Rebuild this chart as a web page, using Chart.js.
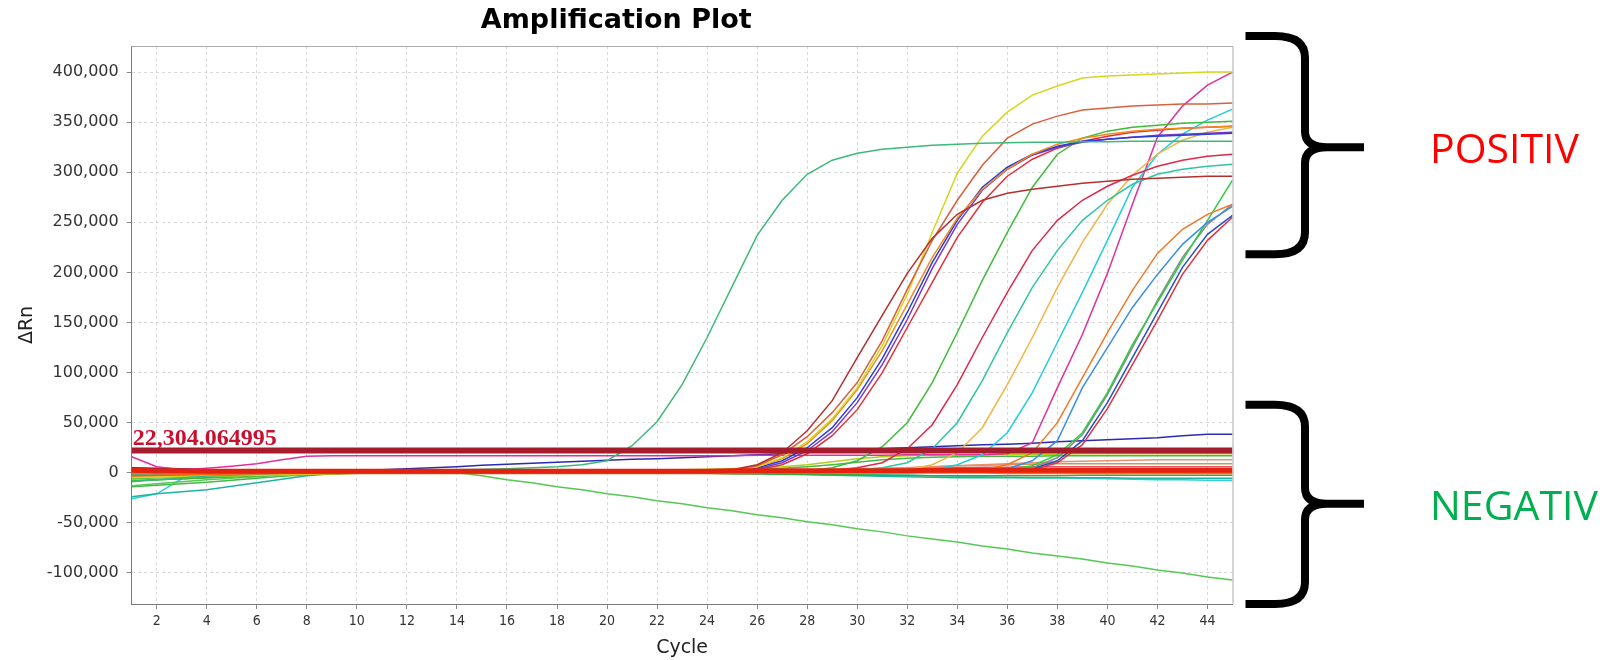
<!DOCTYPE html>
<html><head><meta charset="utf-8">
<script src="https://cdn.jsdelivr.net/npm/chart.js@4.4.1/dist/chart.umd.min.js"></script>
<style>
html,body{margin:0;padding:0;background:#fff;}
#wrap{position:relative;width:1620px;height:660px;overflow:hidden;background:#fff;}
.lab{position:absolute;font-family:'Open Sans',sans-serif;font-size:41px;line-height:41px;white-space:nowrap;}
</style></head><body>
<div id="wrap"><canvas id="c" width="1620" height="660"></canvas>
<div class="lab" style="left:1430px;top:126.6px;color:#FF0000">POSITIV</div>
<div class="lab" style="left:1430px;top:483.6px;color:#00B050">NEGATIV</div>
</div>
<script>
const cycles = [1,2,3,4,5,6,7,8,9,10,11,12,13,14,15,16,17,18,19,20,21,22,23,24,25,26,27,28,29,30,31,32,33,34,35,36,37,38,39,40,41,42,43,44,45];
const xTickValues = [2,4,6,8,10,12,14,16,18,20,22,24,26,28,30,32,34,36,38,40,42,44];
const yTickValues = [-100000,-50000,0,50000,100000,150000,200000,250000,300000,350000,400000];
const yMin = -131000, yMax = 426000;
const thresholdValue = 22304.064995;
const thresholdLabel = '22,304.064995';
const braceRanges = [[436000, 325000, 218000], [68000, -31000, -131000]];

// positive samples
const earlyGreen = [-9000,-7000,-5000,-3500,-2500,-1500,-500,0,500,1000, 1500,2000,2500,3000,3500,4000,5000,6000,8000,12000, 27000,51000,88000,135000,186000,237000,272000,298000,312000,319000, 323000,325000,327000,328000,329000,329500,330000,330000,330500,330500, 331000,331000,331000,331000,331000];
const brownRed = [3000,2500,2000,1500,1000,500,500,500,500,500, 500,500,500,500,500,500,500,500,500,500, 1000,1000,1500,2000,3000,8000,20000,42000,72000,115000, 157000,199000,234000,258000,272000,279000,283000,286000,289000,291000, 293000,294000,295000,296000,296000];
const orangeRed = [-3000,-2500,-2000,-1500,-1000,-500,0,0,0,0, 0,0,0,0,0,0,0,500,500,500, 500,1000,1000,1500,2500,7000,18000,36000,60000,90000, 132000,183000,232000,272000,307000,334000,348000,356000,362000,364000, 366000,367000,368000,368000,369000];
const yellow = [-5000,-4500,-4000,-3500,-3000,-2500,-2000,-1500,-1000,-500, 0,0,0,0,0,0,0,0,500,500, 500,1000,1000,1500,2500,6000,15000,31000,54000,85000, 127000,178000,240000,299000,336000,360000,377000,386000,394000,396000, 397000,398000,399000,400000,400000];
const orange = [-3000,-3000,-2500,-2000,-1500,-1000,-500,0,0,0, 0,0,0,0,0,0,0,0,500,500, 500,500,1000,1500,2500,6000,14000,29000,52000,83000, 122000,168000,215000,254000,283000,303000,318000,328000,334000,338000, 341000,343000,344000,345000,346000];
const blue = [4000,3500,3000,2500,2000,1500,1000,1000,1000,1000, 1000,1000,1000,1000,1000,1000,1000,1000,1000,1000, 1000,1000,1000,1000,1500,5000,12000,25000,45000,75000, 114000,160000,210000,252000,285000,305000,318000,326000,331000,333000, 335000,336000,337000,338000,339000];
const purple = [2000,2000,1500,1500,1000,1000,1000,500,500,500, 500,500,500,500,500,500,500,500,500,500, 500,500,500,500,1500,4000,10000,22000,41000,70000, 108000,153000,204000,248000,282000,303000,317000,325000,330000,333000, 335000,337000,338000,339000,340000];
const red = [1000,1000,1000,500,500,500,500,500,500,500, 500,500,500,500,500,500,500,500,500,500, 500,500,500,500,1000,3000,8000,19000,37000,63000, 100000,145000,190000,235000,270000,296000,313000,324000,331000,336000, 340000,342000,344000,345000,346000];
const greenMid = [-8000,-7000,-6000,-5000,-4000,-3000,-2000,-1500,-1000,-500, 0,0,0,0,0,0,0,0,0,0, 0,500,500,500,500,500,1000,2000,5000,12000, 26000,50000,90000,140000,192000,240000,285000,318000,334000,341000, 345000,347000,349000,350000,351000];
const crimson = [1000,1000,500,500,500,500,500,500,500,500, 500,500,500,500,500,500,500,500,500,500, 500,500,500,500,500,500,1000,1500,2500,5000, 10000,24000,48000,88000,135000,180000,222000,252000,272000,286000, 297000,306000,312000,316000,318000];
const teal = [-2000,-1500,-1000,-500,0,0,0,0,0,0, 0,0,0,0,0,0,0,0,0,0, 0,0,0,0,0,500,500,1000,1500,2500, 5000,10000,24000,50000,92000,140000,185000,222000,252000,272000, 288000,298000,303000,306000,308000];
const lightOrange = [-4000,-3500,-3000,-2500,-2000,-1500,-1000,-500,0,0, 0,0,0,0,0,0,0,0,0,0, 0,0,0,0,500,500,500,1000,1000,1500, 2000,3000,8000,20000,45000,88000,135000,185000,230000,268000, 297000,318000,332000,340000,345000];
const cyan = [-1000,-1000,-500,-500,0,0,0,0,0,0, 0,0,0,0,0,0,0,0,0,0, 0,0,0,0,0,500,500,500,1000,1000, 1500,2000,3000,8000,18000,40000,80000,130000,180000,232000, 285000,318000,338000,352000,363000];
const magenta = [16000,6000,3000,4500,6500,9000,13000,16500,17000,17000, 17000,17000,17000,17000,17000,17000,17000,17000,17000,17000, 17000,17000,17000,17000,17000,17500,17500,17500,17500,17500, 17500,18000,18000,18000,18000,19000,30000,85000,138000,199000, 268000,335000,366000,387000,400000];
const orange2 = [-2000,-1500,-1000,-500,0,0,0,0,0,0, 0,0,0,0,0,0,0,0,0,0, 0,0,0,0,0,0,500,500,500,1000, 1000,1000,1500,2000,3000,8000,20000,50000,95000,140000, 182000,219000,243000,258000,268000];
const lightBlue = [3000,2500,2000,1500,1000,500,500,500,500,500, 500,500,500,500,500,500,500,500,500,500, 500,500,500,500,500,500,500,1000,1000,1000, 1000,1500,1500,2000,2500,4000,12000,32000,85000,125000, 165000,198000,228000,250000,266000];
const green2 = [-6000,-5000,-4000,-3000,-2500,-2000,-1500,-1000,-500,0, 0,0,0,0,0,0,0,0,0,0, 0,0,0,0,0,0,0,500,500,500, 1000,1000,1000,1500,2000,3000,7000,18000,40000,80000, 128000,170000,212000,252000,292000];
const gray = [0,0,0,0,0,0,0,0,0,0, 0,0,0,0,0,0,0,0,0,0, 0,0,0,0,500,500,500,500,1000,1000, 1000,1500,1500,2000,2500,3000,5000,15000,38000,78000, 125000,172000,215000,248000,268000];
const blue3 = [2000,1500,1500,1000,1000,500,500,500,500,500, 500,500,500,500,500,500,500,500,500,500, 500,500,500,500,500,500,1000,1000,1000,1000, 1500,1500,2000,2000,2500,3000,4000,12000,32000,70000, 115000,160000,205000,238000,257000];
const red4 = [1000,1000,500,500,500,500,500,500,500,500, 500,500,500,500,500,500,500,500,500,500, 500,500,500,500,500,500,500,1000,1000,1000, 1000,1500,1500,2000,2000,2500,3000,10000,28000,64000, 108000,152000,198000,232000,255000];

// negative / baseline samples
const darkBlue = [5000,4500,4000,3000,2500,2000,2000,2000,2000,2500, 3000,4000,5000,6000,7500,8500,9500,10500,11500,12500, 13500,14000,15000,16000,17000,18000,19000,20500,22000,23000, 24000,25000,26000,27000,28000,28500,29500,31000,32000,33000, 34000,35000,37000,38500,38500];
const negGreen = [-13000,-11000,-9000,-7000,-5500,-4000,-2500,-1500,-1000,-500, 0,0,0,0,-3000,-7000,-10000,-14000,-17000,-21000, -24000,-28000,-31000,-35000,-38000,-42000,-45000,-49000,-52000,-56000, -59000,-63000,-66000,-69000,-73000,-76000,-80000,-83000,-86000,-90000, -93000,-97000,-100000,-104000,-107000];
const yellowGreen = [-4000,-3500,-3000,-2500,-2000,-1500,-1000,-500,0,0, 0,500,500,500,1000,1000,1000,1500,1500,2000, 2000,2500,3000,3500,4000,5000,6000,8000,11000,14000, 16000,17000,17500,18000,18000,18500,18500,18500,19000,19000, 19000,19000,19000,19000,19000];
const green3 = [-14000,-12500,-11000,-9500,-7500,-5500,-3500,-2000,-1000,0, 0,0,500,500,500,1000,1000,1000,1500,1500, 1500,2000,2000,2500,3000,3500,4500,6000,8000,10500, 13000,14500,15500,16000,16500,16500,16500,17000,17000,17000, 17000,17000,17000,17000,17000];
const salmon = [-2000,-1500,-1000,-500,0,0,0,0,0,0, 0,0,0,0,500,500,500,500,500,1000, 1000,1000,1000,1500,1500,2000,2500,3000,3500,4000, 4500,5000,6000,7000,8000,9000,10000,11000,11500,12000, 12500,13000,13000,13000,13000];
const tan = [-6000,-5000,-4000,-3000,-2500,-2000,-1500,-1000,-500,0, 0,0,0,0,0,0,500,500,500,500, 500,1000,1000,1000,1500,1500,2000,2500,3000,3500, 4000,5000,6000,7000,7500,8000,8500,9000,9000,9000, 9000,9000,9000,9000,9000];
const pinkRed = [2000,1500,1000,500,0,0,0,0,0,0, 0,0,0,0,0,0,0,0,500,500, 500,500,1000,1000,1000,1500,1500,2000,2500,3000, 3500,4000,4500,5000,5500,5500,6000,6000,6000,6000, 6000,6000,6000,6000,6000];
const redBase = [2500,2000,2000,1500,1500,1500,1500,1500,1500,1500, 1500,1500,1500,1500,1500,1500,1500,1500,1500,1500, 1500,1500,1500,1500,2000,2000,2000,2000,2000,2000, 2000,2000,2500,2500,2500,2500,2500,2500,2500,2500, 2500,2500,2500,2500,2500];
const orangeBase = [0,0,-500,-500,-500,-500,0,0,0,0, 0,0,0,0,0,0,0,0,0,0, 0,0,0,0,0,0,500,500,500,500, 500,500,500,500,500,0,0,0,0,0, 0,0,0,0,0];
const green4 = [-8000,-7000,-6000,-5000,-4000,-3000,-2000,-1500,-1000,-500, 0,0,0,0,0,0,0,0,0,0, 0,0,-500,-500,-1000,-1000,-1500,-1500,-2000,-2000, -2500,-2500,-3000,-3000,-3000,-3000,-3000,-3000,-2500,-2500, -2500,-2500,-2500,-2500,-2500];
const tealBase = [-24000,-21000,-19000,-17000,-13500,-10000,-6500,-3000,-1000,0, 0,0,0,0,0,0,0,0,0,0, 0,0,-500,-500,-1000,-1000,-1500,-2000,-2500,-3000, -3500,-4000,-4500,-5000,-5000,-5000,-5000,-5000,-5000,-5000, -5500,-5500,-5500,-5500,-5500];
const cyanBase = [-26000,-21000,-6000,-4500,-3500,-2500,-1500,-1000,-500,0, 0,0,0,0,0,0,0,0,0,0, 0,0,0,-500,-500,-1000,-1000,-1500,-1500,-2000, -2000,-2500,-3000,-3500,-4000,-4500,-5000,-5000,-5500,-6000, -6500,-7000,-7000,-7500,-7500];

function line(label, data, color, width) {
  return {label, data, borderColor: color, backgroundColor: color, borderWidth: width || 1.5,
          pointRadius: 0, pointHoverRadius: 0, fill: false, tension: 0};
}

const datasets = [
  {label: 'Threshold', data: [{x: cycles[0], y: thresholdValue}, {x: cycles[cycles.length - 1], y: thresholdValue}],
   borderColor: '#A51D2D', backgroundColor: '#A51D2D', borderWidth: 6, pointRadius: 0, fill: false},
  line('A1', redBase, '#E3220F', 5),
  line('A2', orangeBase, '#FF6A0A', 3),
  line('A3', earlyGreen, '#3DB97A'),
  line('A4', brownRed, '#B3302E'),
  line('A5', orangeRed, '#D8603A'),
  line('A6', yellow, '#D6D61E'),
  line('A7', orange, '#F28A1C'),
  line('A8', blue, '#2E3ED2'),
  line('A9', purple, '#7A3CC8'),
  line('A10', red, '#E0303A'),
  line('A11', greenMid, '#3DBB3D'),
  line('A12', crimson, '#E0284A'),
  line('A13', teal, '#2EC4A4'),
  line('A14', lightOrange, '#F2B444'),
  line('A15', cyan, '#22CCDD'),
  line('A16', magenta, '#E0309C'),
  line('A17', orange2, '#F07828'),
  line('A18', lightBlue, '#3A8EE6'),
  line('A19', green2, '#2ECC40'),
  line('A20', gray, '#8A8A8A'),
  line('A21', blue3, '#2850C8'),
  line('A22', red4, '#DD3344'),
  line('B1', darkBlue, '#2B2BB0'),
  line('B2', negGreen, '#55C855'),
  line('B3', yellowGreen, '#B5CC1E'),
  line('B4', green3, '#45B845'),
  line('B5', salmon, '#E8906A'),
  line('B6', tan, '#C89A5A'),
  line('B7', pinkRed, '#E05868'),
  line('B8', green4, '#38A838'),
  line('B9', tealBase, '#1EB4A0'),
  line('B10', cyanBase, '#2ED0D8')
];

function drawBrace(ctx, x0, xv, xt, yA, yM, yB) {
  ctx.beginPath();
  ctx.moveTo(x0, yA);
  ctx.lineTo(xv - 30, yA);
  ctx.quadraticCurveTo(xv, yA, xv, yA + 22);
  ctx.lineTo(xv, yM - 16);
  ctx.quadraticCurveTo(xv, yM, xv + 22, yM);
  ctx.lineTo(xt, yM);
  ctx.moveTo(xt, yM);
  ctx.lineTo(xv + 22, yM);
  ctx.quadraticCurveTo(xv, yM, xv, yM + 16);
  ctx.lineTo(xv, yB - 22);
  ctx.quadraticCurveTo(xv, yB, xv - 30, yB);
  ctx.lineTo(x0, yB);
  ctx.stroke();
}

const decor = {
  id: 'decor',
  afterDatasetsDraw(chart) {
    const {ctx, chartArea: a, scales: {y}} = chart;
    const ty = y.getPixelForValue(thresholdValue);
    ctx.save();
    ctx.font = 'bold 24px "Liberation Serif", "Times New Roman", serif';
    ctx.fillStyle = '#C8102E';
    ctx.textAlign = 'left';
    ctx.textBaseline = 'alphabetic';
    ctx.fillText(thresholdLabel, a.left + 1, ty - 5);
    ctx.restore();
  },
  afterDraw(chart) {
    const {ctx, chartArea: a, scales: {y}} = chart;
    ctx.save();
    ctx.strokeStyle = '#ababab';
    ctx.lineWidth = 1;
    ctx.beginPath();
    ctx.moveTo(a.left, a.top + 0.5);
    ctx.lineTo(a.right + 0.5, a.top + 0.5);
    ctx.lineTo(a.right + 0.5, a.bottom);
    ctx.stroke();
    ctx.strokeStyle = '#000';
    ctx.lineWidth = 8;
    ctx.lineJoin = 'round';
    ctx.lineCap = 'butt';
    braceRanges.forEach(r => {
      drawBrace(ctx, a.right + 13, a.right + 72.5, a.right + 131.5,
        y.getPixelForValue(r[0]), y.getPixelForValue(r[1]), y.getPixelForValue(r[2]));
    });
    ctx.restore();
  }
};

new Chart(document.getElementById('c'), {
  type: 'line',
  data: {labels: cycles, datasets},
  plugins: [decor],
  options: {
    responsive: false,
    animation: false,
    devicePixelRatio: 1,
    events: [],
    layout: {padding: {left: 0, right: 387.5, top: 0, bottom: 0}},
    plugins: {
      legend: {display: false},
      tooltip: {enabled: false},
      title: {display: true, text: 'Amplification Plot', color: '#000',
              font: {family: '"DejaVu Sans", sans-serif', size: 27, weight: 'bold'},
              padding: {top: 5, bottom: 8.6}}
    },
    scales: {
      x: {
        type: 'linear', min: 1, max: 45,
        afterBuildTicks: s => { s.ticks = xTickValues.map(v => ({value: v})); },
        afterFit: s => { s.height = 56; },
        ticks: {font: {family: '"Liberation Sans Narrow", "DejaVu Sans Condensed", "Liberation Sans", sans-serif', size: 14},
                color: '#333', padding: 4, maxRotation: 0, autoSkip: false},
        grid: {color: '#d8d8d8', tickColor: '#8a8a8a', tickLength: 5},
        border: {color: '#7a7a7a', dash: [3, 3]},
        title: {display: true, text: 'Cycle', color: '#222',
                font: {family: '"DejaVu Sans", sans-serif', size: 19}, padding: {top: 0, bottom: 1}}
      },
      y: {
        type: 'linear', min: yMin, max: yMax,
        afterBuildTicks: s => { s.ticks = yTickValues.map(v => ({value: v})); },
        afterFit: s => { s.width = 131.7; },
        ticks: {font: {family: '"DejaVu Sans", sans-serif', size: 16}, color: '#333', padding: 8,
                callback: v => Number(v).toLocaleString('en-US')},
        grid: {color: '#d8d8d8', tickColor: '#8a8a8a', tickLength: 5},
        border: {color: '#7a7a7a', dash: [3, 3]},
        title: {display: true, text: 'ΔRn', color: '#222',
                font: {family: '"DejaVu Sans", sans-serif', size: 19}, padding: {top: 15.3, bottom: 0}}
      }
    }
  }
});
</script>
</body></html>
